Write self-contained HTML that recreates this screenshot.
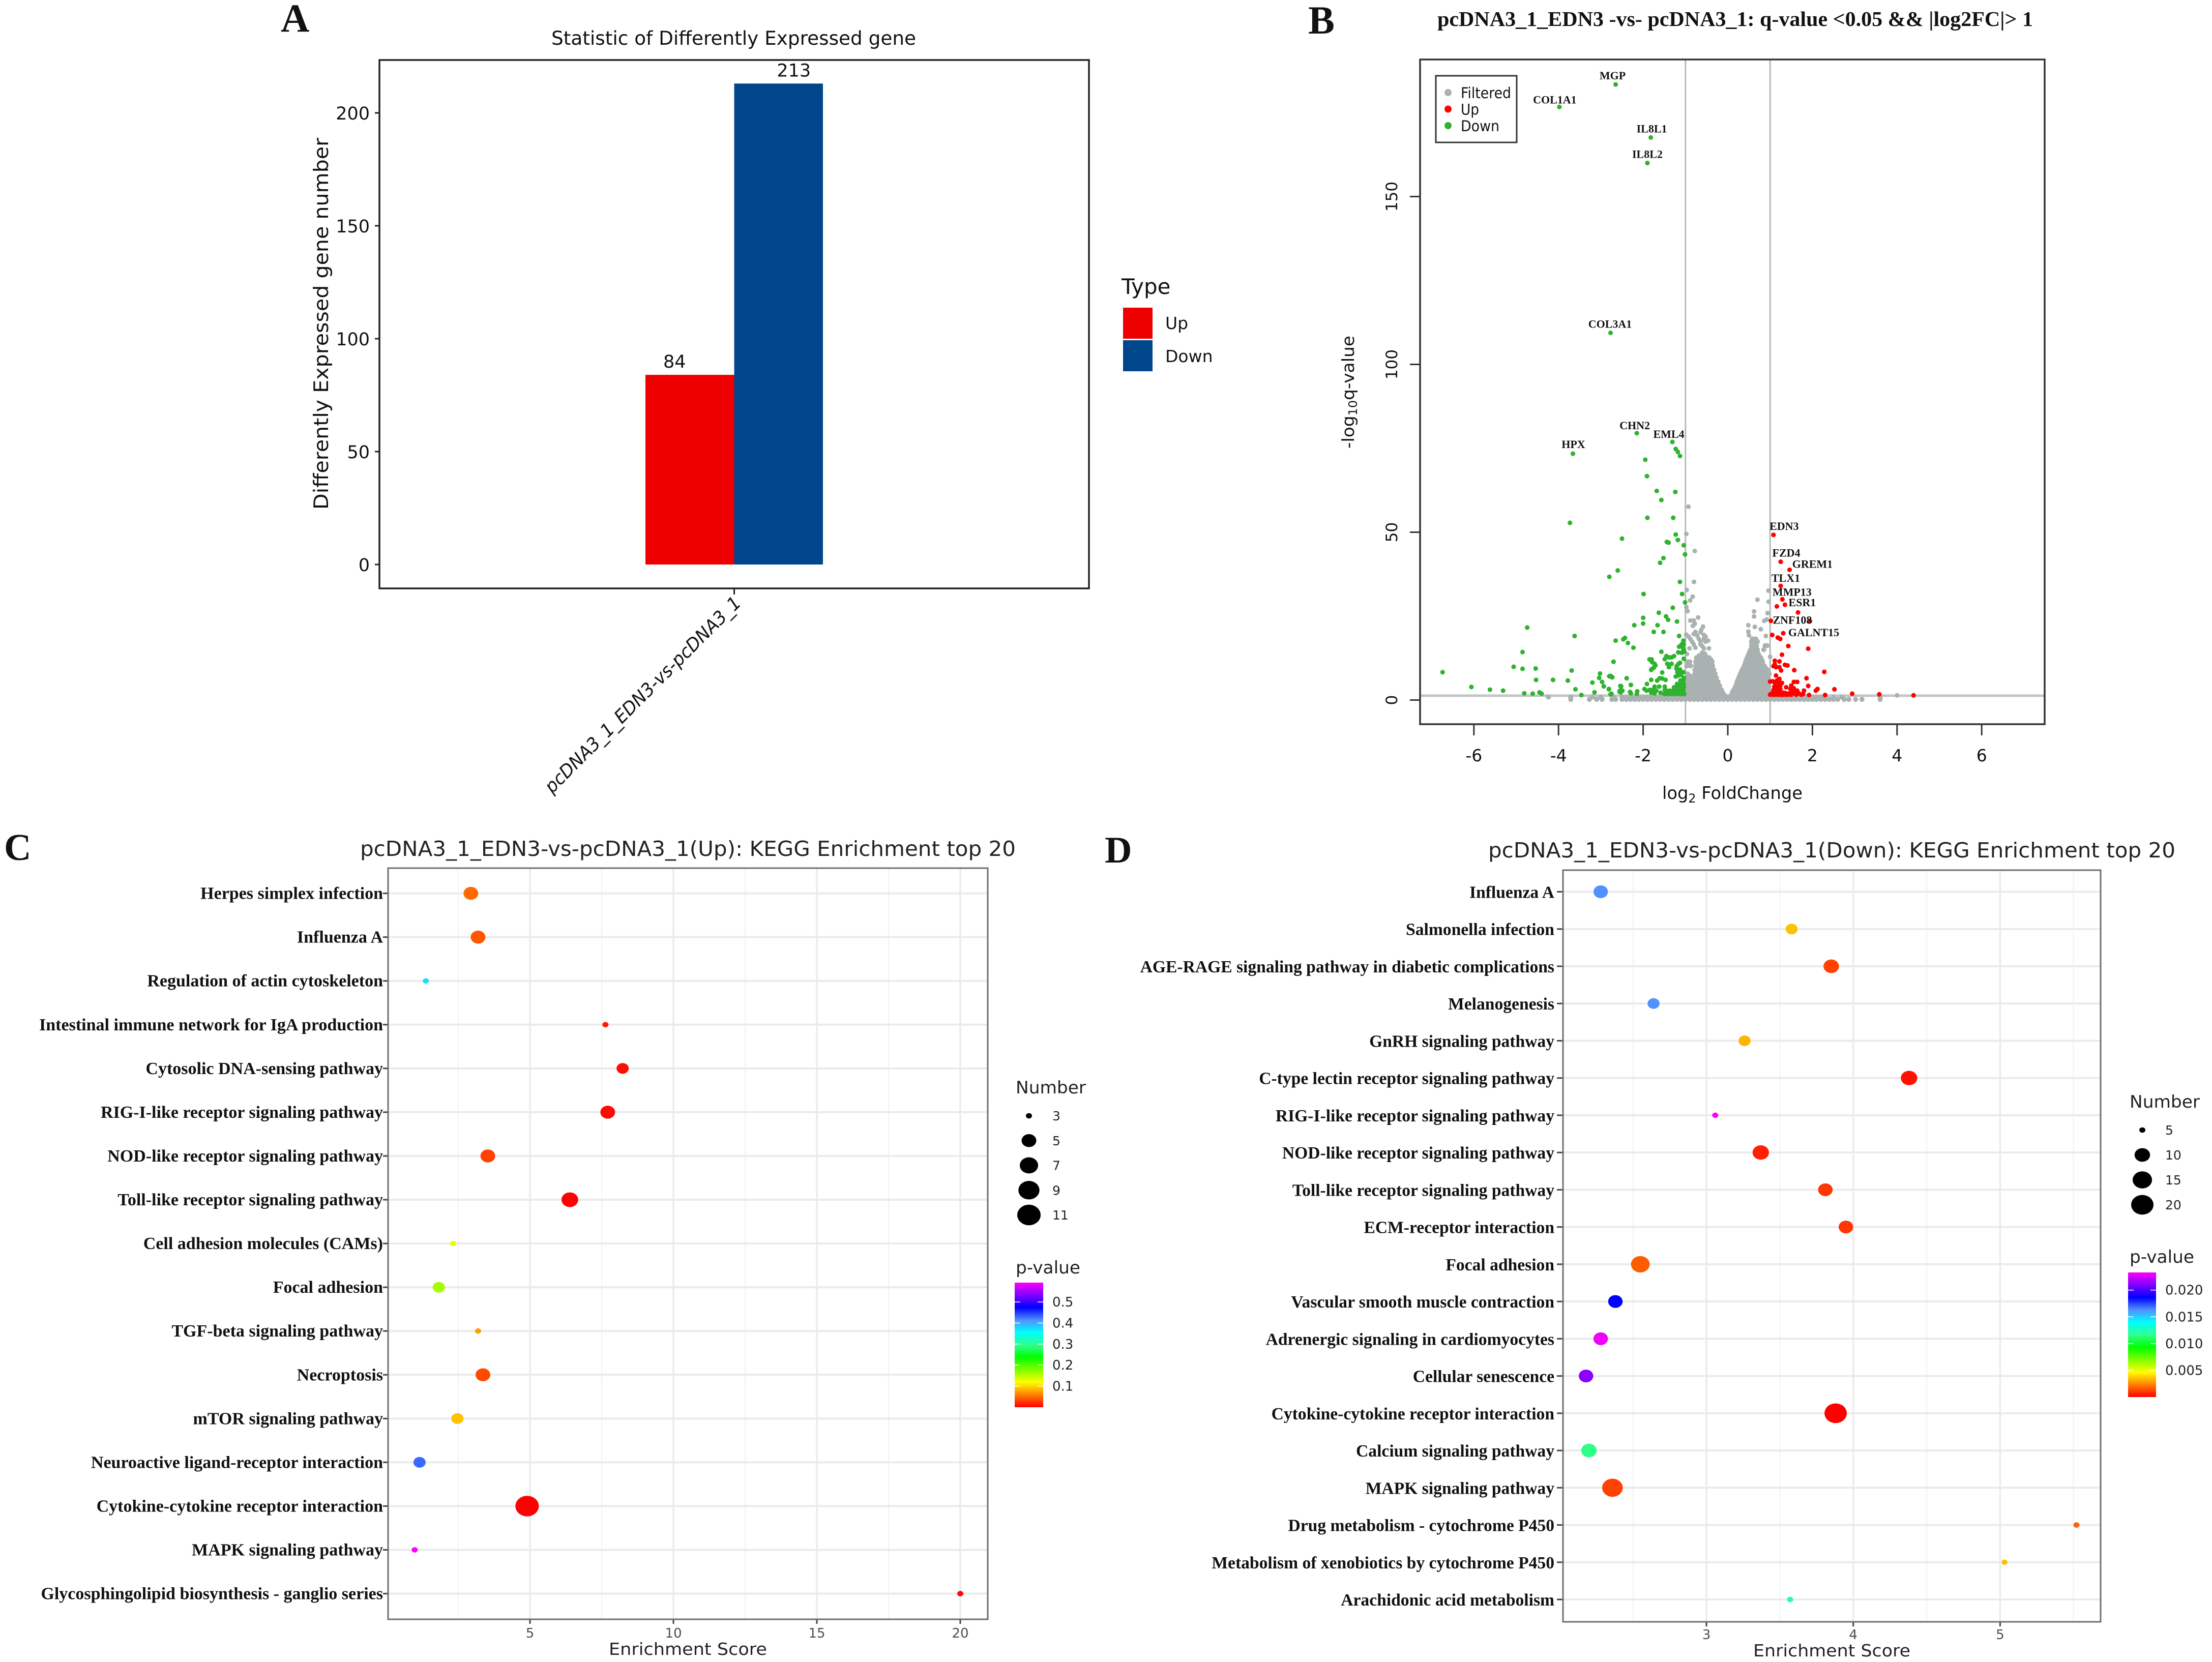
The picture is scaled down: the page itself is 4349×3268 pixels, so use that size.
<!DOCTYPE html>
<html lang="en">
<head>
<meta charset="utf-8">
<title>Differential expression figure</title>
<style>
html,body{margin:0;padding:0;background:#fff;}
svg{display:block;}
.dv{font-family:"DejaVu Sans",sans-serif;}
.sb{font-family:"Liberation Serif",serif;font-weight:bold;}
</style>
</head>
<body>
<svg id="figure" xmlns="http://www.w3.org/2000/svg" width="4349" height="3268" viewBox="0 0 4349 3268">
<defs>
<linearGradient id="rainbow" x1="0" y1="0" x2="0" y2="1">
<stop offset="0" stop-color="#ff00ff"/><stop offset="0.2" stop-color="#0000ff"/><stop offset="0.3" stop-color="#5090ff"/><stop offset="0.4" stop-color="#00ffff"/><stop offset="0.5" stop-color="#30ff90"/><stop offset="0.6" stop-color="#00ff00"/><stop offset="0.8" stop-color="#ffff00"/><stop offset="1" stop-color="#ff0000"/>
</linearGradient>
</defs>
<rect x="0" y="0" width="4349" height="3268" fill="#fff"/>

<text class="sb" x="552" y="62" font-size="78" fill="#111">A</text>
<text class="sb" x="2572" y="66" font-size="78" fill="#111">B</text>
<text class="sb" x="8" y="1691" font-size="74" fill="#111">C</text>
<text class="sb" x="2172" y="1696" font-size="74" fill="#111">D</text>

<g id="panel-a">
<text class="dv" x="1084" y="88" font-size="37" fill="#111" textLength="717" lengthAdjust="spacingAndGlyphs">Statistic of Differently Expressed gene</text>
<text class="dv" transform="translate(645,1002) rotate(-90)" font-size="39" fill="#111" textLength="731" lengthAdjust="spacingAndGlyphs">Differently Expressed gene number</text>
<text class="dv" transform="translate(1459,1188) rotate(-45)" text-anchor="end" font-size="36" font-style="italic" fill="#111" textLength="528" lengthAdjust="spacingAndGlyphs">pcDNA3_1_EDN3-vs-pcDNA3_1</text>
<text class="dv" x="2205" y="578" font-size="42" fill="#111">Type</text>
</g>

<g id="panel-b">
<text class="sb" x="2826" y="51" font-size="41" fill="#111" textLength="1171" lengthAdjust="spacingAndGlyphs">pcDNA3_1_EDN3 -vs- pcDNA3_1: q-value &lt;0.05 &amp;&amp; |log2FC|&gt; 1</text>
<text class="dv" transform="translate(2662,882) rotate(-90)" font-size="33" fill="#111" textLength="222" lengthAdjust="spacingAndGlyphs">-log<tspan font-size="23" dy="6">10</tspan><tspan dy="-6">q-value</tspan></text>
<text class="dv" x="3268" y="1571" font-size="34" fill="#111" textLength="276" lengthAdjust="spacingAndGlyphs">log<tspan font-size="24" dy="7">2</tspan><tspan dy="-7"> FoldChange</tspan></text>
</g>

<g id="panel-c">
<text class="dv" x="708" y="1683" font-size="41" fill="#222" textLength="1289" lengthAdjust="spacingAndGlyphs">pcDNA3_1_EDN3-vs-pcDNA3_1(Up): KEGG Enrichment top 20</text>
<text class="dv" x="1197" y="3254" font-size="33" fill="#222" textLength="311" lengthAdjust="spacingAndGlyphs">Enrichment Score</text>
<text class="dv" x="1997" y="2150" font-size="34" fill="#222" textLength="138" lengthAdjust="spacingAndGlyphs">Number</text>
<text class="dv" x="1997" y="2504" font-size="34" fill="#222" textLength="127" lengthAdjust="spacingAndGlyphs">p-value</text>
</g>

<g id="panel-d">
<text class="dv" x="2926" y="1686" font-size="41" fill="#222" textLength="1351" lengthAdjust="spacingAndGlyphs">pcDNA3_1_EDN3-vs-pcDNA3_1(Down): KEGG Enrichment top 20</text>
<text class="dv" x="3447" y="3257" font-size="33" fill="#222" textLength="309" lengthAdjust="spacingAndGlyphs">Enrichment Score</text>
<text class="dv" x="4187" y="2178" font-size="34" fill="#222" textLength="138" lengthAdjust="spacingAndGlyphs">Number</text>
<text class="dv" x="4187" y="2483" font-size="34" fill="#222" textLength="127" lengthAdjust="spacingAndGlyphs">p-value</text>
</g>
</svg>

<script>
/* ---------- Panel A data ---------- */
const barTypes = ['Up', 'Down'];
const barValues = [84, 213];
const barTicks = [0, 50, 100, 150, 200];

/* ---------- Panel B data ---------- */
const volcanoXTicks = [-6, -4, -2, 0, 2, 4, 6];
const volcanoYTicks = [0, 50, 100, 150];
const foldChangeCutoffs = [-1, 1];
const qValueCutoff = 1.3;

const geneNames = ['MGP','COL1A1','IL8L1','IL8L2','COL3A1','CHN2','EML4','HPX','EDN3','FZD4','GREM1','TLX1','MMP13','ESR1','ZNF108','GALNT15'];
const geneLog2FC = [-2.65,-3.98,-1.82,-1.90,-2.77,-2.15,-1.31,-3.66,1.08,1.25,1.46,1.25,1.29,1.35,1.02,1.31];
const geneLogQ = [183.4,176.7,167.6,160,109.4,79.5,76.9,73.4,49.2,41.2,38.8,34,30,28.4,23.6,19.9];

const downLog2FC = [
-1.23,-1.18,-1.13,-1.95,-1.91,-1.68,-1.24,-1.57,-1.90,-1.29,
-3.73,-1.23,-2.50,-1.18,-1.44,-1.40,-1.04,-1.01,-1.52,-1.60,
-2.60,-2.80,-1.13,-1.99,-1.08,-1.01,-1.30,-1.63,-1.46,-1.41,
-2.0,-1.2,-2.0,-2.21,-1.66,-4.74,-1.75,-1.52,-3.62,-1.15,
-2.43,-2.47,-2.65,-2.36,-2.23,-4.85,
-1.05,-1.09,-1.05,-1.15,-1.07,-1.05,-1.17,-1.09,-1.03,-1.57,
-1.45,-1.39,-1.33,-1.27,-1.49,-1.04,-1.85,-1.8,-1.79,-1.73,
-1.71,-1.75,-1.79,-1.81,-2.7,-1.43,-1.33,-1.39,-1.21,-1.13,
-1.17,-1.21,-1.13,-1.19,-1.09,-1.05,-1.23,-1.17,-1.11,-1.55,
-2.8,-2.73,-2.39,-1.81,-1.67,-1.61,-1.55,-1.47,-1.91,-2.29,
-2.52,-2.93,-2.81,-2.55,-2.49,-2.53,-2.31,-2.14,-2.29,-2.15,
-2.77,-1.97,-1.92,-1.85,-1.79,-1.73,-1.62,-1.69,-1.81,-1.73,
-1.59,-1.49,-1.49,
-1.5,-1.42,-1.34,-1.26,-1.18,-1.1,-1.03,
-1.45,-1.37,-1.29,-1.21,-1.13,-1.05,
-1.27,-1.2,-1.12,-1.04,
-1.2,-1.12,-1.04,
-1.12,-1.05,-1.04,
-4.53,-4.13,-3.78,-6.06,-5.62,-5.31,-3.6,-3.15,-4.81,-4.61,
-4.45,-4.4,-3.46,-3.02,-3.04,-3.2,-2.97,-2.93,-2.77,-2.74,
-2.29,-2.81,-2.54,-2.56,-2.75,-5.06,-4.54,-3.69,-6.74,-4.85
];
const downLogQ = [
74.8,73.9,72.7,71.6,66.7,62.3,62,59.6,54.3,54.3,
52.8,49.3,48.1,47.7,47.1,46.9,46.1,43.4,42.3,40.9,
38.6,36.7,35.2,31.6,31.6,29.1,27.5,26,24.9,23.9,
24.5,23.4,22.8,22.3,22.3,21.6,20.3,20.3,19.1,19.1,
18.5,18.1,17.7,17,15.6,14.3,
17.7,16.6,16.6,15.9,15.9,15.1,14.2,14.1,14.4,14.4,
13.1,12.7,12.7,13.1,12.2,12.3,12.1,12.1,11.3,10.8,
10.3,9.6,9.3,9,11.4,10.8,10.8,9.8,10.1,11.1,
10.7,9.3,9.1,8.3,8.1,8.3,7,7.3,7.5,8.2,
7.1,6.8,6.5,6,5.8,6.5,6.4,6,4.8,4.5,
4.1,4.1,3.3,2.8,2.8,2.3,2.4,2.6,2,1.9,
1.7,3.3,2.8,3,3,4,4,2.8,2.2,2,
2.2,4,3,
1.8,1.8,1.8,1.8,1.8,1.8,1.8,
2.8,2.8,2.8,2.8,2.8,2.8,
3.8,3.8,3.8,3.8,
4.8,4.8,4.8,
5.8,5.8,6.6,
6,6,5.8,3.9,3.1,2.8,3.2,2.3,2,1.9,
2.3,1.9,1.5,7.9,6.6,5.2,5.4,4.1,7.2,6.8,
4.5,3.2,4.2,2.5,1.9,9.9,9.4,8.8,8.3,9.3
];

const upLog2FC = [
1.16,1.66,1.94,1.05,1.18,1.24,1.43,1.9,1.28,1.11,
1.22,1.11,1.08,1.14,1.22,1.26,1.35,1.41,1.57,2.28,
1.14,1.22,1.16,1.86,1.0,1.06,1.56,1.64,1.12,1.2,
1.28,1.1,1.18,1.24,1.38,1.5,1.56,1.9,1.08,1.16,
1.24,1.48,1.54,1.64,1.8,2.12,2.08,2.52,
1.04,1.12,1.2,1.28,1.38,1.46,1.58,1.68,1.78,1.12,1.24,1.32,
1.0,1.06,1.12,1.18,1.24,1.3,1.36,1.42,1.5,1.62,1.74,
1.92,2.3,2.94,3.58,4.39
];
const upLogQ = [
27.9,26.1,23.5,19.4,18.6,18.2,16.1,15.3,13.5,11.7,
11.5,10.6,10.1,9.8,9.8,8.8,10.5,10.3,8.9,8.4,
7.3,6.3,5.8,6.5,5.5,5.6,5.4,5.4,5,5.3,
5.1,4,4,4.3,3.8,4.3,3.5,4.2,3,3,
3.3,3.3,2.5,2.8,2.8,3.3,2.8,3.2,
2,2,2,2,2,2,2,2,1.8,2.3,2.5,2.2,
1.6,1.6,1.6,1.6,1.6,1.6,1.6,1.6,1.6,1.6,1.6,
1.5,1.5,1.9,1.7,1.4
];

const filteredRowLogQ = [0.2,0.9,1.3,1.8,2.4,3,3.6,4.2,4.8,5.4,6,6.6,7.2,7.8,8.4,9,9.6,10.2,10.8,11.4,12,12.6,13.2,13.8,14.4,15,16.2,17.4,18.2];
const filteredRowLog2FC = [
[-3.71,-3.27,-3.1,-2.97,-2.74,-2.65,-2.5,-2.4,-2.3,-2.2,-2.1,-2,-1.9,-1.8,-1.7,-1.6,-1.5,-1.4,-1.3,-1.2,-1.1,-1,-0.9,-0.8,-0.7,-0.6,-0.5,-0.4,-0.3,-0.2,-0.1,0,0.1,0.2,0.3,0.4,0.5,0.6,0.7,0.8,0.9,1,1.1,1.2,1.3,1.4,1.5,1.6,1.7,1.8,1.9,2,2.1,2.2,2.3,2.4,2.5,2.6,2.75,2.86,3.02,3.17,3.6],
[-4.24,-3.71,-3.2,-3,-2.7,-2.5,-2.4,-2.3,-2.2,-2.1,-2,-1.9,-1.8,-1.7,-1.6,-1.5,-1.4,-1.3,-1.2,-1.1,-1,-0.9,-0.8,-0.7,-0.6,-0.5,-0.4,-0.3,-0.2,-0.1,0,0.1,0.2,0.3,0.4,0.5,0.6,0.7,0.8,0.9,1,1.1,1.2,1.3,1.4,1.5,1.6,1.7,1.8,1.9,2,2.1,2.2,2.3,2.5,2.7,3.6],
[-0.95,-0.85,-0.75,-0.65,-0.55,-0.45,-0.35,-0.25,-0.15,-0.07,0.07,0.15,0.25,0.35,0.45,0.55,0.65,0.75,0.85,0.95],
[-1,-0.9,-0.8,-0.7,-0.6,-0.5,-0.4,-0.3,-0.2,-0.1,0.1,0.2,0.3,0.4,0.5,0.6,0.7,0.8,0.9,0.98],
[-0.95,-0.85,-0.75,-0.65,-0.55,-0.45,-0.35,-0.25,-0.13,0.11,0.19,0.29,0.39,0.49,0.59,0.69,0.79,0.89,0.95],
[-0.96,-0.86,-0.76,-0.66,-0.56,-0.46,-0.36,-0.26,-0.15,0.14,0.24,0.34,0.44,0.54,0.64,0.74,0.84,0.94],
[-1,-0.91,-0.81,-0.71,-0.61,-0.51,-0.41,-0.31,-0.21,0.17,0.25,0.33,0.43,0.53,0.63,0.73,0.83,0.93],
[-0.98,-0.88,-0.78,-0.68,-0.58,-0.48,-0.38,-0.28,-0.19,0.19,0.28,0.38,0.48,0.58,0.68,0.78,0.88,0.97],
[-0.93,-0.83,-0.73,-0.63,-0.53,-0.43,-0.33,-0.24,0.21,0.33,0.43,0.53,0.63,0.73,0.83,0.93],
[-0.95,-0.85,-0.75,-0.65,-0.55,-0.45,-0.35,-0.23,0.22,0.31,0.41,0.51,0.61,0.71,0.81,0.91],
[-1,-0.9,-0.8,-0.7,-0.6,-0.5,-0.4,-0.3,0.24,0.36,0.46,0.56,0.66,0.76,0.86,0.96],
[-0.98,-0.88,-0.78,-0.68,-0.58,-0.48,-0.38,-0.27,0.26,0.35,0.45,0.55,0.65,0.75,0.85,0.95],
[-0.9,-0.8,-0.72,-0.62,-0.52,-0.42,-0.32,0.28,0.4,0.5,0.6,0.7,0.8,0.9],
[-0.95,-0.78,-0.68,-0.58,-0.48,-0.38,-0.3,0.3,0.4,0.5,0.6,0.7,0.8,0.9,0.98],
[-0.74,-0.64,-0.54,-0.44,-0.34,0.32,0.42,0.52,0.62,0.72,0.82,0.92],
[-0.78,-0.7,-0.6,-0.5,-0.4,-0.33,0.34,0.44,0.54,0.64,0.74,0.84,0.93],
[-0.72,-0.64,-0.55,-0.45,-0.37,0.37,0.49,0.59,0.69,0.79,0.89],
[-0.97,-0.88,-0.76,-0.68,-0.6,-0.52,-0.44,-0.36,0.39,0.47,0.55,0.63,0.71,0.79,0.86],
[-0.92,-0.72,-0.64,-0.56,-0.48,-0.4,0.41,0.51,0.61,0.71,0.81],
[-0.97,-0.9,-0.76,-0.68,-0.6,-0.52,-0.44,-0.37,0.42,0.5,0.58,0.66,0.74,0.82],
[-0.72,-0.62,-0.54,-0.46,-0.4,0.44,0.54,0.64,0.74,0.8],
[-0.74,-0.66,-0.58,-0.5,-0.44,0.46,0.54,0.62,0.7,0.78],
[-0.68,-0.6,-0.52,0.48,0.56,0.66,0.74],
[0.5,0.58,0.64,0.72],
[0.52,0.6,0.68],
[0.54,0.6,0.66,0.7,0.85],
[0.56,0.62,0.68,0.88,0.93],
[0.56,0.62,0.7],
[0.58,0.66]
];
const filteredLog2FC = [
-0.93,-0.98,-0.78,-0.8,-0.97,-0.83,-0.89,-0.98,-0.97,-0.95,-0.7,
-0.885,-0.805,-0.78,-0.825,-0.585,-0.625,-0.765,-0.645,-0.805,-0.985,
-0.565,-0.925,-0.725,-0.525,-0.885,-0.685,-0.565,-0.465,-0.845,-0.645,
-0.525,-0.805,-0.645,-0.605,-0.905,-0.765,-0.565,-0.445,-0.605,-0.545,
-0.965,-0.565,
0.96,0.965,0.7,0.62,0.62,0.94,0.86,0.92,0.485,0.64,
0.78,0.485,0.5,0.9,1,4
];
const filteredLogQ = [
57.6,49.5,44.4,35.2,32.8,30.8,29.7,27.7,26.7,26.5,24.6,
23.7,23.7,22.7,22.1,21.9,20.9,20.3,20.2,19.7,19.5,
19.4,18.9,19.2,18.9,18.2,18.2,18.2,17.7,17.4,17.4,
17.4,16.6,16.6,16.1,15.4,15.6,15.4,15.4,14.1,13.9,
13.7,13.1,
32.6,29.3,29.9,26.4,24.9,25.9,23.6,24,22.3,21.8,
21.1,20.4,19.3,19.1,12.9,1.4
];
const volcanoLegendLabels = ['Filtered','Up','Down'];

/* ---------- Panel C data ---------- */
const upPathways = ['Herpes simplex infection','Influenza A','Regulation of actin cytoskeleton','Intestinal immune network for IgA production','Cytosolic DNA-sensing pathway','RIG-I-like receptor signaling pathway','NOD-like receptor signaling pathway','Toll-like receptor signaling pathway','Cell adhesion molecules (CAMs)','Focal adhesion','TGF-beta signaling pathway','Necroptosis','mTOR signaling pathway','Neuroactive ligand-receptor interaction','Cytokine-cytokine receptor interaction','MAPK signaling pathway','Glycosphingolipid biosynthesis - ganglio series'];
const upScores = [2.94,3.19,1.37,7.63,8.23,7.71,3.53,6.39,2.32,1.82,3.19,3.36,2.47,1.15,4.9,0.98,20];
const upNumbers = [5,5,3,3,4,5,5,6,3,4,3,5,4,4,11,3,3];
const upPValues = [0.049,0.04,0.37,0.012,0.006,0.004,0.03,0.001,0.13,0.16,0.074,0.035,0.09,0.43,0.0,0.59,0.003];
const upXTicks = [5,10,15,20];
const upXMinorTicks = [2.5,7.5,12.5,17.5];
const upSizeLegend = [3,5,7,9,11];
const upColorTicks = [0.1,0.2,0.3,0.4,0.5];

/* ---------- Panel D data ---------- */
const downPathways = ['Influenza A','Salmonella infection','AGE-RAGE signaling pathway in diabetic complications','Melanogenesis','GnRH signaling pathway','C-type lectin receptor signaling pathway','RIG-I-like receptor signaling pathway','NOD-like receptor signaling pathway','Toll-like receptor signaling pathway','ECM-receptor interaction','Focal adhesion','Vascular smooth muscle contraction','Adrenergic signaling in cardiomyocytes','Cellular senescence','Cytokine-cytokine receptor interaction','Calcium signaling pathway','MAPK signaling pathway','Drug metabolism - cytochrome P450','Metabolism of xenobiotics by cytochrome P450','Arachidonic acid metabolism'];
const downScores = [2.28,3.58,3.85,2.64,3.26,4.38,3.06,3.37,3.81,3.95,2.55,2.38,2.28,2.18,3.88,2.2,2.36,5.52,5.03,3.57];
const downNumbers = [9,7,10,7,7,11,5,11,9,9,14,9,9,9,20,10,17,5,5,5];
const downPValues = [0.0163,0.0035,0.0012,0.0163,0.0033,0.0003,0.0233,0.0006,0.001,0.001,0.0017,0.0186,0.023,0.0212,0.0,0.0115,0.0012,0.0018,0.0035,0.0125];
const downXTicks = [3,4,5];
const downXMinorTicks = [2.5,3.5,4.5,5.5];
const downSizeLegend = [5,10,15,20];
const downColorTicks = ['0.005','0.010','0.015','0.020'];

/* ---------- helpers ---------- */
const NS = 'http://www.w3.org/2000/svg';
const rampStops = [[0,[255,0,0]],[0.2,[255,255,0]],[0.4,[0,255,0]],[0.5,[48,255,144]],[0.6,[0,255,255]],[0.7,[80,144,255]],[0.8,[0,0,255]],[1,[255,0,255]]];
function rampColor(t) {
  const v = Math.max(0, Math.min(1, t));
  for (let i = 1; i < rampStops.length; i++) {
    if (v <= rampStops[i][0]) {
      const a = rampStops[i - 1], b = rampStops[i];
      const f = (v - a[0]) / (b[0] - a[0]);
      const c = a[1].map((x, k) => Math.round(x + (b[1][k] - x) * f));
      return 'rgb(' + c.join(',') + ')';
    }
  }
  return 'rgb(255,0,255)';
}
function line(parent, x1, y1, x2, y2, stroke, width) {
  const el = document.createElementNS(NS, 'line');
  el.setAttribute('x1', x1); el.setAttribute('y1', y1);
  el.setAttribute('x2', x2); el.setAttribute('y2', y2);
  el.setAttribute('stroke', stroke); el.setAttribute('stroke-width', width);
  parent.appendChild(el);
  return el;
}
function box(parent, x, y, w, h, fill, stroke, width) {
  const el = document.createElementNS(NS, 'rect');
  el.setAttribute('x', x); el.setAttribute('y', y);
  el.setAttribute('width', w); el.setAttribute('height', h);
  el.setAttribute('fill', fill);
  if (stroke) { el.setAttribute('stroke', stroke); el.setAttribute('stroke-width', width); }
  parent.appendChild(el);
  return el;
}
function dot(parent, cx, cy, rx, ry, fill) {
  const el = document.createElementNS(NS, 'ellipse');
  el.setAttribute('cx', cx); el.setAttribute('cy', cy);
  el.setAttribute('rx', rx); el.setAttribute('ry', ry);
  el.setAttribute('fill', fill);
  parent.appendChild(el);
  return el;
}
function label(parent, x, y, str, cls, size, fill, anchor) {
  const el = document.createElementNS(NS, 'text');
  el.setAttribute('x', x); el.setAttribute('y', y);
  el.setAttribute('class', cls); el.setAttribute('font-size', size);
  el.setAttribute('fill', fill); el.setAttribute('text-anchor', anchor || 'start');
  el.textContent = str;
  parent.appendChild(el);
  return el;
}
function markStatic(el, name) {
  
  
}

/* ---------- Panel A ---------- */
(function () {
  const g = document.getElementById('panel-a');
  const left = 746, right = 2141, top = 118, bottom = 1157;
  const yScale = v => 1110 - 4.44 * v;
  const barWidth = 174.5, center = 1443.5;
  const labelShift = [-30, 30];
  const barColors = ['#ee0000', '#00468b'];
  barValues.forEach((v, i) => {
    const bar = box(g, center - barWidth + i * barWidth, yScale(v), barWidth, yScale(0) - yScale(v), barColors[i]);
    markStatic(bar, 'bar-' + barTypes[i].toLowerCase());
    const val = label(g, center - barWidth / 2 + i * barWidth + labelShift[i], yScale(v) - 14, v, 'dv', 35, '#111', 'middle');
    markStatic(val, 'bar-value-' + barTypes[i].toLowerCase());
    const swatch = box(g, 2208, 605 + i * 64, 58, 61, barColors[i]);
    markStatic(swatch, 'legend-swatch-' + barTypes[i].toLowerCase());
    const text = label(g, 2291, 647 + i * 65, barTypes[i], 'dv', 33, '#111');
    markStatic(text, 'legend-label-' + barTypes[i].toLowerCase());
  });
  barTicks.forEach(t => {
    const tick = line(g, 737, yScale(t), left, yScale(t), '#222', 3);
    markStatic(tick, 'bar-y-tick');
    const lab = label(g, 727, yScale(t) + 13, t, 'dv', 35, '#111', 'end');
    markStatic(lab, 'bar-y-tick-label');
  });
  const xt = line(g, center, bottom, center, bottom + 12, '#222', 3);
  markStatic(xt, 'bar-x-tick');
  const frame = box(g, left, top, right - left, bottom - top, 'none', '#222', 3.5);
  markStatic(frame, 'bar-plot-frame');
})();

/* ---------- Panel B ---------- */
(function () {
  const g = document.getElementById('panel-b');
  const left = 2792, right = 4020, top = 117, bottom = 1424;
  const xScale = v => 3397 + 83.2 * v;
  const yScale = q => 1376.5 - 6.6 * q;
  const R = 4.6;
  const GREY = '#a9b1b1', RED = '#ff0000', GREEN = '#2fb32f';

  foldChangeCutoffs.forEach(c => {
    const el = line(g, xScale(c), top, xScale(c), bottom, '#b4baba', 3);
    markStatic(el, 'fold-change-cutoff-line');
  });
  const hl = line(g, left, yScale(qValueCutoff), right, yScale(qValueCutoff), '#c2c6c6', 5);
  markStatic(hl, 'q-value-cutoff-line');

  filteredRowLogQ.forEach((q, r) => {
    filteredRowLog2FC[r].forEach(v => {
      const el = dot(g, xScale(v), yScale(q), 5, 5, GREY);
      
      
    });
  });
  filteredLog2FC.forEach((v, i) => {
    const el = dot(g, xScale(v), yScale(filteredLogQ[i]), R, R, GREY);
    
    
  });
  downLog2FC.forEach((v, i) => {
    const el = dot(g, xScale(v), yScale(downLogQ[i]), R, R, GREEN);
    
    
  });
  upLog2FC.forEach((v, i) => {
    const el = dot(g, xScale(v), yScale(upLogQ[i]), R, R, RED);
    
    
  });

  const geneLabelDx = [-6,-9,2,0,-1,-4,-7,1,21,11,45,10,19,34,42,60];
  const geneLabelDy = [-10,-7,-10,-10,-10,-8,-8,-11,-10,-10,-4,-8,-7,3,6,6];
  geneNames.forEach((name, i) => {
    const px = xScale(geneLog2FC[i]), py = yScale(geneLogQ[i]);
    const el = dot(g, px, py, R, R, geneLog2FC[i] < 0 ? GREEN : RED);
    
    
    const t = label(g, px + geneLabelDx[i], py + geneLabelDy[i], name, 'sb', 22, '#111', 'middle');
    
    
  });

  volcanoXTicks.forEach(t => {
    const tick = line(g, xScale(t), bottom, xScale(t), 1446, '#333', 3);
    markStatic(tick, 'volcano-x-tick');
    const lab = label(g, xScale(t), 1497, t, 'dv', 33, '#111', 'middle');
    markStatic(lab, 'volcano-x-tick-label');
  });
  volcanoYTicks.forEach(t => {
    const tick = line(g, 2772, yScale(t), left, yScale(t), '#333', 3);
    markStatic(tick, 'volcano-y-tick');
    const lab = label(g, 0, 0, t, 'dv', 31, '#111', 'middle');
    lab.setAttribute('transform', 'translate(2747,' + yScale(t) + ') rotate(-90)');
    markStatic(lab, 'volcano-y-tick-label');
  });
  const frame = box(g, left, top, right - left, bottom - top, 'none', '#333', 3.5);
  markStatic(frame, 'volcano-plot-frame');

  const lb = box(g, 2823, 149, 159, 131, '#fff', '#333', 3);
  markStatic(lb, 'volcano-legend-box');
  const legendColors = [GREY, RED, GREEN];
  const legendWidths = [99, 36, 76];
  volcanoLegendLabels.forEach((name, i) => {
    const d = dot(g, 2847, 182 + i * 32.5, 7, 7, legendColors[i]);
    markStatic(d, 'volcano-legend-dot-' + name.toLowerCase());
    const t = label(g, 2872, 193 + i * 32.5, name, 'dv', 29, '#111');
    t.setAttribute('textLength', legendWidths[i]);
    t.setAttribute('lengthAdjust', 'spacingAndGlyphs');
    markStatic(t, 'volcano-legend-label-' + name.toLowerCase());
  });
})();

/* ---------- Bubble panels ---------- */
function bubblePanel(cfg) {
  const g = document.getElementById(cfg.id);
  const { left, right, top, bottom } = cfg;
  const rowY = i => cfg.y0 + cfg.dy * i;
  const hue = p => rampColor(p / cfg.pMax);

  cfg.minor.forEach(t => {
    const el = line(g, cfg.x(t), top, cfg.x(t), bottom, '#f2f2f2', 2);
    markStatic(el, 'minor-gridline');
  });
  cfg.major.forEach(t => {
    const el = line(g, cfg.x(t), top, cfg.x(t), bottom, '#ebebeb', 3.5);
    markStatic(el, 'major-gridline');
    const tick = line(g, cfg.x(t), bottom, cfg.x(t), bottom + 9, '#444', 3);
    markStatic(tick, 'x-tick');
    const lab = label(g, cfg.x(t), cfg.tickBase, t, 'dv', 26, '#4d4d4d', 'middle');
    markStatic(lab, 'x-tick-label');
  });
  cfg.names.forEach((name, i) => {
    const gl = line(g, left, rowY(i), right, rowY(i), '#ebebeb', 4);
    markStatic(gl, 'row-gridline');
    const tick = line(g, left - cfg.tickLen, rowY(i), left, rowY(i), '#444', 3);
    markStatic(tick, 'y-tick');
    const t = label(g, left - cfg.labelGap, rowY(i) + cfg.labelDy, name, 'sb', cfg.labelSize, '#111', 'end');
    markStatic(t, 'pathway-label');
  });
  cfg.scores.forEach((s, i) => {
    const r = cfg.radius(cfg.numbers[i]);
    const el = dot(g, cfg.x(s), rowY(i), r, r * 0.88, hue(cfg.pValues[i]));
    
    
  });
  const frame = box(g, left, top, right - left, bottom - top, 'none', '#6e6e6e', 3);
  markStatic(frame, 'plot-frame');

  cfg.sizeLegend.forEach((n, i) => {
    const y = cfg.sizeY0 + cfg.sizeDy * i;
    const r = cfg.radius(n);
    const d = dot(g, cfg.sizeX, y, r, r * 0.88, '#000');
    markStatic(d, 'size-legend-dot');
    const t = label(g, cfg.sizeLabelX, y + 9, n, 'dv', 25, '#222');
    markStatic(t, 'size-legend-label');
  });
  const bar = box(g, cfg.barX, cfg.barTop, cfg.barW, cfg.barH, 'url(#rainbow)');
  markStatic(bar, 'p-value-colorbar');
  cfg.colorTicks.forEach(t => {
    const y = cfg.barTop + cfg.barH * (1 - Number(t) / cfg.pMax);
    const a = line(g, cfg.barX, y, cfg.barX + 11, y, '#fff', 1.5);
    markStatic(a, 'colorbar-tick');
    const b = line(g, cfg.barX + cfg.barW - 11, y, cfg.barX + cfg.barW, y, '#fff', 1.5);
    markStatic(b, 'colorbar-tick');
    const lab = label(g, cfg.barX + cfg.barW + 18, y + 9, t, 'dv', 26, '#222');
    markStatic(lab, 'colorbar-tick-label');
  });
}

bubblePanel({
  id: 'panel-c', left: 763, right: 1942, top: 1707, bottom: 3184,
  y0: 1756.6, dy: 86.06, tickBase: 3220,
  tickLen: 10, labelGap: 10, labelDy: 11, labelSize: 34,
  x: v => 1042 + (v - 5) * 56.4,
  major: upXTicks, minor: upXMinorTicks,
  names: upPathways, scores: upScores, numbers: upNumbers, pValues: upPValues,
  radius: n => 6 + 17 * Math.sqrt((n - 3) / 8),
  pMax: 0.592,
  sizeLegend: upSizeLegend, sizeX: 2023, sizeLabelX: 2069, sizeY0: 2194, sizeDy: 48.75,
  colorTicks: upColorTicks, barX: 1995, barW: 56, barTop: 2522, barH: 245
});
bubblePanel({
  id: 'panel-d', left: 3073, right: 4130, top: 1711, bottom: 3189,
  y0: 1753.5, dy: 73.24, tickBase: 3223,
  tickLen: 12, labelGap: 17, labelDy: 12, labelSize: 33.6,
  x: v => 3355 + (v - 3) * 288.7,
  major: downXTicks, minor: downXMinorTicks,
  names: downPathways, scores: downScores, numbers: downNumbers, pValues: downPValues,
  radius: n => 6 + 16 * Math.sqrt((n - 5) / 15),
  pMax: 0.0233,
  sizeLegend: downSizeLegend, sizeX: 4212, sizeLabelX: 4257, sizeY0: 2222, sizeDy: 49,
  colorTicks: downColorTicks, barX: 4184, barW: 55, barTop: 2502, barH: 245
});
</script>
</body>
</html>
